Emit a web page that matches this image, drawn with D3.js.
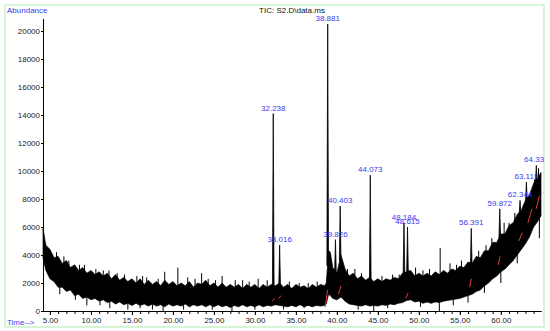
<!DOCTYPE html>
<html>
<head>
<meta charset="utf-8">
<script src="https://cdn.jsdelivr.net/npm/d3@7"></script>
<style>
body { margin: 0; background: #fff; }
svg { display: block; font-family: "Liberation Sans", Arial, sans-serif; }
</style>
</head>
<body>
<div id="chart"></div>
<script>
const bandTimes = [4.15, ...d3.range(4.5, 38.51, 0.5), 38.7, 39.0, 39.2, ...d3.range(39.5, 64.51, 0.5), 64.9];
const bandUpper = [5900,
    4700, 4400, 3800, 3900, 3400, 3600, 3100, 3300, 2900, 3100, 2700, 2900, 2600, 2800, 2500, 2700, 2300, 2600, 2200, 2400,
    2100, 2300, 2000, 2300, 1900, 2200, 1900, 2100, 1800, 2200, 1900, 2100, 1800, 2000, 1800, 2100, 1700, 2000, 1900, 2200,
    1800, 2000, 1700, 2000, 1700, 1900, 1700, 1900, 1600, 1900, 1700, 1900, 1600, 1900, 1700, 1900, 1800, 2000, 1700, 1900,
    1600, 1900, 1700, 1800, 1600, 1900, 1700, 1900, 1800,
    2000, 4300, 4200,
    3100, 2700, 4000, 3000, 2500, 2700, 2300, 2500, 2200, 2400, 2100, 2300, 2100, 2300, 2200, 2400, 2300, 2700, 2800, 2900,
    2500, 2700, 2500, 2700, 2500, 2800, 2600, 2900, 2700, 3000, 2900, 3200, 3100, 3500, 3400, 3900, 3800, 4300, 4300, 4900,
    4900, 5500, 5500, 6100, 6300, 6900, 7200, 7900, 8300, 9100, 9500,
    9900];
const bandLower = [3800,
    2900, 2300, 2100, 1700, 1700, 1400, 1500, 1100, 1200, 900, 1000, 800, 900, 700, 800, 600, 700, 500, 650, 450,
    550, 400, 550, 400, 500, 350, 500, 350, 450, 300, 500, 350, 450, 350, 500, 300, 450, 350, 450, 300,
    450, 300, 450, 300, 400, 250, 400, 300, 450, 300, 400, 300, 450, 300, 400, 350, 450, 400, 350, 300,
    400, 300, 450, 300, 400, 300, 400, 350, 400,
    500, 1200, 1100,
    900, 800, 1000, 700, 500, 450, 400, 350, 450, 350, 400, 350, 450, 400, 500, 450, 550, 600, 750, 800,
    650, 700, 550, 650, 550, 650, 600, 700, 750, 800, 850, 900, 1000, 1100, 1200, 1400, 1500, 1800, 2000, 2300,
    2500, 2800, 3000, 3300, 3600, 4000, 4400, 4800, 5300, 6000, 6400,
    6800];

const spikeTimes = [5.8, 6.7, 7.3, 8.6, 9.2, 10.6, 11.5, 12.2, 13.2, 14.1, 15.6, 16.3, 16.8, 18.2, 19.0, 20.6, 21.8, 22.7, 23.5, 24.3, 25.2, 26.0, 27.6, 28.5, 29.3, 30.4, 31.5, 34.2, 35.4, 36.5, 37.6, 41.3, 42.2, 43.0, 45.5, 46.8, 47.6, 49.6, 50.5, 51.3, 52.6, 53.8, 54.6, 55.2, 57.3, 58.2, 58.9, 60.4, 61.0, 61.7, 62.8, 63.6, 64.1, 64.6];
const spikeValues = [4200, 3900, 3600, 3300, 3300, 3000, 2900, 2900, 2700, 2600, 2500, 2500, 2400, 2300, 2800, 3100, 2400, 2300, 2700, 2300, 2200, 2500, 2200, 2200, 2100, 2300, 2200, 2100, 2000, 2000, 2100, 3000, 3000, 2700, 2500, 2600, 2600, 3100, 2900, 3000, 4500, 3400, 3300, 3600, 4300, 4700, 5200, 6300, 6300, 7000, 7600, 8400, 9400, 10200];

const dipTimes = [6.2, 8.1, 9.5, 11.1, 12.3, 14.5, 16.0, 17.5, 18.8, 21.3, 24.8, 27.2, 30.0, 33.5, 36.0, 42.6, 44.5, 46.2, 50.2, 52.5, 54.2, 56.0, 58.0, 60.0, 62.0, 64.7];
const dipValues = [1200, 800, 400, 400, 200, 100, 200, 100, 0, 100, 100, 0, 100, 100, 200, 100, 0, 200, 300, 0, 400, 600, 1300, 2000, 3400, 5200];

const peakTimes = [32.238, 33.016, 38.881, 39.826, 40.403, 44.073, 48.184, 48.615, 56.391, 59.872, 62.344, 63.119, 64.33];
const peakHeights = [14100, 4700, 20500, 5100, 7500, 9700, 6300, 6000, 5900, 7300, 7900, 9200, 10400];
const peakLabels = ["32.238", "33.016", "38.881", "39.826", "40.403", "44.073", "48.184", "48.615", "56.391", "59.872", "62.344", "63.119", "64.330"];

const redT0 = [32.1, 32.9, 38.6, 40.2, 48.4, 56.2, 59.7, 62.2, 63.3, 64.3];
const redV0 = [700, 900, 300, 1200, 900, 1700, 3300, 5000, 6300, 7300];
const redT1 = [32.4, 33.2, 38.85, 40.5, 48.7, 56.4, 59.9, 62.6, 63.8, 64.7];
const redV1 = [900, 1100, 1500, 1800, 1300, 2300, 3900, 5600, 7300, 8200];

const xMajorTicks = [5, 10, 15, 20, 25, 30, 35, 40, 45, 50, 55, 60];
const xMinorTicks = d3.range(5, 65);
const yTicks = [0, 2000, 4000, 6000, 8000, 10000, 12000, 14000, 16000, 18000, 20000];

const width = 550;
const height = 331;
const blue = "#3b3bef";

const svg = d3.select("#chart").append("svg").attr("width", width).attr("height", height);

svg.append("defs").append("clipPath").attr("id", "frameClip")
    .append("rect").attr("x", 5).attr("y", 5).attr("width", 539).attr("height", 322);

svg.append("rect").attr("x", 5).attr("y", 5).attr("width", 539).attr("height", 322)
    .attr("fill", "none").attr("stroke", "#c9f2c9").attr("stroke-width", 1.5);

const x = d3.scaleLinear().domain([4.15, 64.9]).range([43, 541]);
const y = d3.scaleLinear().domain([0, 20900]).range([311, 18.4]);

const upperAt = d3.scaleLinear().domain(bandTimes).range(bandUpper);
const lowerAt = d3.scaleLinear().domain(bandTimes).range(bandLower);

const plot = svg.append("g").attr("clip-path", "url(#frameClip)");

const area = d3.area()
    .x(i => x(bandTimes[i]))
    .y0(i => y(bandLower[i]))
    .y1(i => y(bandUpper[i]));
plot.append("path").datum(d3.range(bandTimes.length)).attr("d", area)
    .attr("fill", "#000").attr("stroke", "#000").attr("stroke-width", 0.7);

plot.selectAll(".spike").data(spikeTimes).enter().append("line")
    .attr("x1", d => x(d)).attr("x2", d => x(d))
    .attr("y1", d => y(upperAt(d)) + 2).attr("y2", (d, i) => y(spikeValues[i]))
    .attr("stroke", "#000").attr("stroke-width", 1);

plot.selectAll(".dip").data(dipTimes).enter().append("line")
    .attr("x1", d => x(d)).attr("x2", d => x(d))
    .attr("y1", d => y(lowerAt(d)) - 2).attr("y2", (d, i) => y(dipValues[i]))
    .attr("stroke", "#000").attr("stroke-width", 1);

plot.selectAll(".peak").data(peakTimes).enter().append("path")
    .attr("d", (d, i) => {
        const base = y(upperAt(d)) + 2;
        return `M${x(d - 0.1)},${base}L${x(d)},${y(peakHeights[i])}L${x(d + 0.1)},${base}Z`;
    })
    .attr("fill", "#000").attr("stroke", "#000").attr("stroke-width", 0.8);

plot.selectAll(".red").data(redT0).enter().append("line")
    .attr("x1", d => x(d)).attr("y1", (d, i) => y(redV0[i]))
    .attr("x2", (d, i) => x(redT1[i])).attr("y2", (d, i) => y(redV1[i]))
    .attr("stroke", "#e23a3a").attr("stroke-width", 1);

plot.selectAll(".plabel").data(peakTimes).enter().append("text")
    .attr("x", d => x(d)).attr("y", (d, i) => y(peakHeights[i]) - 3)
    .attr("text-anchor", "middle").attr("font-size", 8).attr("fill", blue)
    .text((d, i) => peakLabels[i]);

const xAxisMinor = d3.axisBottom(x).tickValues(xMinorTicks).tickSize(3).tickSizeOuter(0).tickFormat("");
const xAxis = d3.axisBottom(x).tickValues(xMajorTicks).tickSize(4).tickSizeOuter(0).tickPadding(2).tickFormat(d3.format(".2f"));
const yAxis = d3.axisLeft(y).tickValues(yTicks).tickSize(2).tickSizeOuter(0).tickPadding(1).tickFormat(d3.format("d"));

svg.append("g").attr("transform", "translate(0,311)").call(xAxisMinor);
const gx = svg.append("g").attr("transform", "translate(0,311)").call(xAxis);
const gy = svg.append("g").attr("transform", "translate(43,0)").call(yAxis);

svg.selectAll(".domain").attr("stroke", "#000");
svg.selectAll(".tick line").attr("stroke", "#000");
gx.selectAll("text").attr("font-size", 8).attr("fill", "#222").attr("font-family", "Liberation Sans, Arial, sans-serif");
gy.selectAll("text").attr("font-size", 8).attr("fill", "#222").attr("font-family", "Liberation Sans, Arial, sans-serif");

svg.append("text").attr("x", 7).attr("y", 13).attr("font-size", 8).attr("fill", blue).text("Abundance");
svg.append("text").attr("x", 292).attr("y", 13).attr("text-anchor", "middle").attr("font-size", 8).attr("fill", "#111").text("TIC: S2.D\\data.ms");
svg.append("text").attr("x", 7).attr("y", 325).attr("font-size", 8).attr("fill", blue).text("Time-->");
</script>
</body>
</html>
